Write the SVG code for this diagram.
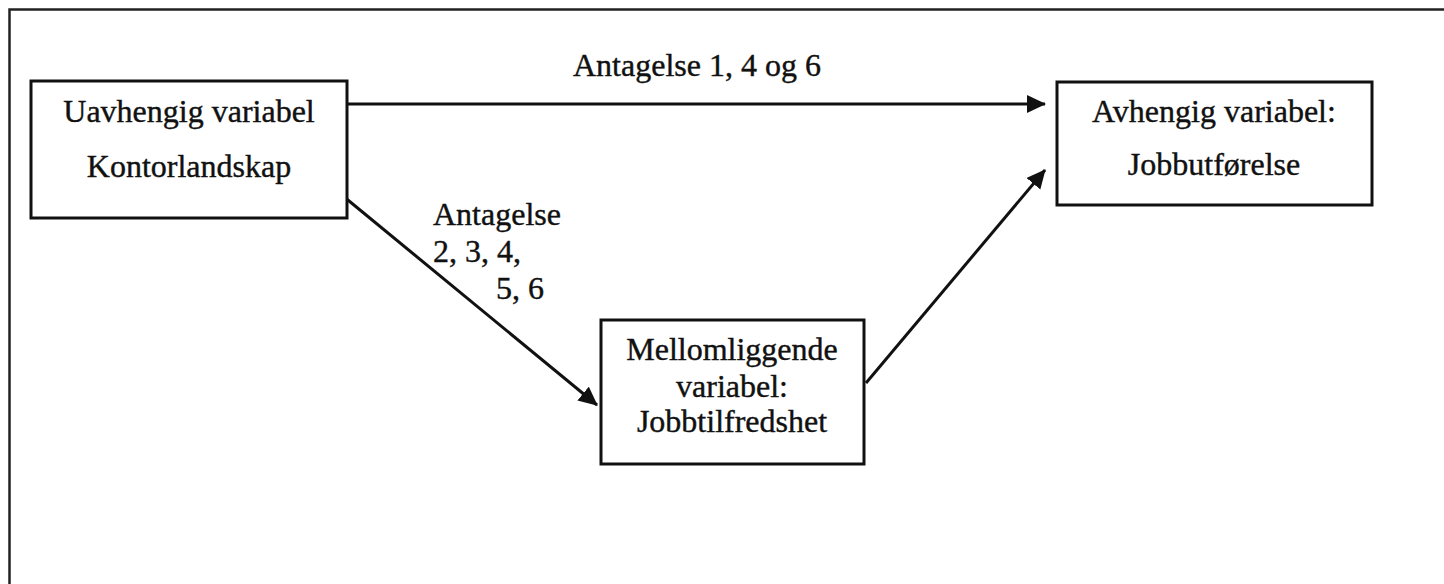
<svg xmlns="http://www.w3.org/2000/svg" width="1444" height="584" viewBox="0 0 1444 584">
<style>
  .box{fill:#fff;stroke:#111;stroke-width:3}
  .t{font-family:"Liberation Serif","Times New Roman",serif;font-size:32px;fill:#111;stroke:#111;stroke-width:0.4}
  .c{text-anchor:middle}
  .edge{stroke:#111;stroke-width:3;fill:none}
</style>
<defs>
  <marker id="ah" markerWidth="20" markerHeight="20" refX="18" refY="9" orient="auto" markerUnits="userSpaceOnUse">
    <path d="M0,0 L19,9 L0,18 Z" fill="#111"/>
  </marker>
</defs>
<rect width="1444" height="584" fill="#fff"/>
<path d="M9.5,584 L9.5,9.5 L1444,9.5" fill="none" stroke="#222" stroke-width="2.5"/>
<g id="connectors">
  <line class="edge" x1="340" y1="104" x2="1045" y2="104" marker-end="url(#ah)"/>
  <line class="edge" x1="343" y1="196" x2="597" y2="405" marker-end="url(#ah)"/>
  <line class="edge" x1="866" y1="383" x2="1045" y2="170" marker-end="url(#ah)"/>
  <text class="t" x="573" y="76">Antagelse 1, 4 og 6</text>
  <text class="t" x="433" y="225">Antagelse</text>
  <text class="t" x="433" y="262">2, 3, 4,</text>
  <text class="t" x="496" y="299">5, 6</text>
</g>
<g id="node-uavhengig">
  <rect class="box" x="31" y="81" width="316" height="137"/>
  <text class="t c" x="189" y="122">Uavhengig variabel</text>
  <text class="t c" x="189" y="177">Kontorlandskap</text>
</g>
<g id="node-avhengig">
  <rect class="box" x="1057" y="82" width="315" height="123"/>
  <text class="t c" x="1214" y="122">Avhengig variabel:</text>
  <text class="t c" x="1214" y="175">Jobbutførelse</text>
</g>
<g id="node-mellom">
  <rect class="box" x="601" y="320" width="263" height="144"/>
  <text class="t c" x="732" y="360">Mellomliggende</text>
  <text class="t c" x="732" y="397">variabel:</text>
  <text class="t c" x="732" y="432">Jobbtilfredshet</text>
</g>
</svg>
